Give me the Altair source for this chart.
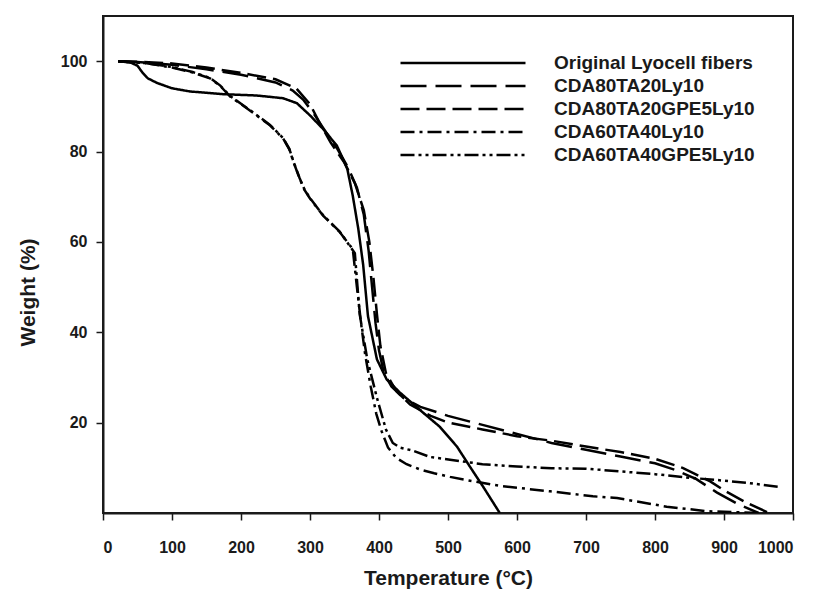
import altair as alt
import pandas as pd

series_names = [
    "Original Lyocell fibers",
    "CDA80TA20Ly10",
    "CDA80TA20GPE5Ly10",
    "CDA60TA40Ly10",
    "CDA60TA40GPE5Ly10",
]

lyo_t = [22, 40, 50, 57, 65, 78, 100, 126, 174, 223, 261, 281, 300, 319, 339, 354, 362, 370, 377, 384, 397, 411, 430, 464, 488, 513, 532, 551, 575]
lyo_w = [100, 99.7, 99, 97.5, 96.2, 95.2, 94, 93.3, 92.7, 92.4, 91.8, 90.7, 88, 85, 81.3, 76.2, 70.2, 62.9, 55, 43.6, 34, 29.6, 26.7, 22.2, 19.1, 14.7, 10.2, 5.8, 0]

a_t = [22, 50, 100, 150, 200, 250, 275, 290, 305, 320, 340, 355, 368, 378, 385, 390, 395, 400, 407, 418, 435, 460, 500, 550, 600, 650, 700, 750, 800, 830, 860, 890, 920, 950]
a_w = [100, 99.8, 99.2, 98.2, 97, 95.3, 93.5, 91.5, 88.5, 85, 80.5, 76.5, 72, 66, 58, 50, 42, 36, 31, 28, 25.5, 23.5, 21.5, 19.5, 17.5, 15.5, 14, 12.5, 11, 9.5, 7.5, 4.5, 2, 0]

b_t = [22, 50, 100, 150, 200, 250, 280, 300, 315, 330, 350, 365, 378, 386, 392, 397, 402, 410, 425, 445, 475, 500, 550, 600, 650, 700, 750, 800, 840, 860, 880, 900, 930, 965]
b_w = [100, 99.9, 99.5, 98.6, 97.4, 96, 94, 90.5, 86, 82, 77.5, 73, 67, 60, 52, 44, 37, 31, 27, 24, 21.5, 20, 18.5, 17, 16, 14.7, 13.5, 12, 10, 8.5, 7, 5, 2.5, 0]

c_t = [22, 60, 100, 130, 155, 170, 184, 200, 220, 242, 261, 270, 276, 285, 292, 300, 319, 343, 362, 368, 374, 380, 388, 396, 404, 413, 425, 440, 460, 480, 503, 530, 575, 648, 710, 745, 817, 875, 950]
c_w = [100, 99.6, 98.6, 97.5, 96.2, 94.5, 92.2, 90.5, 88.3, 85.8, 82.9, 80.5, 77.7, 74, 71.5, 69.6, 65.8, 62.2, 58.4, 50, 42, 35, 28, 22, 18, 14.5, 12.2, 10.8, 9.6, 8.8, 8, 7.2, 6, 4.8, 3.7, 3.3, 1.4, 0.4, 0]

d_t = [22, 60, 100, 130, 155, 170, 184, 200, 220, 242, 261, 270, 276, 285, 292, 300, 319, 343, 365, 372, 383, 397, 410, 420, 430, 449, 474, 503, 550, 600, 650, 700, 750, 800, 850, 890, 938, 978]
d_w = [100, 99.6, 98.7, 97.6, 96.3, 94.6, 92.3, 90.6, 88.4, 85.9, 83, 80.6, 77.8, 74.1, 71.6, 69.7, 65.9, 62.3, 57.5, 44, 34, 25.5, 18.5, 15.5, 14.5, 13.8, 12.4, 11.8, 10.8, 10.3, 9.9, 9.8, 9.2, 8.6, 7.8, 7.3, 6.6, 5.8]

rows = []
for name, ts, ws in zip(series_names, [lyo_t, a_t, b_t, c_t, d_t], [lyo_w, a_w, b_w, c_w, d_w]):
    for i, (t, w) in enumerate(zip(ts, ws)):
        rows.append({"series": name, "T": t, "W": w, "i": i})
df = pd.DataFrame(rows)

dashes = [[1, 0], [26, 9], [19, 7], [14, 5, 3, 5], [14, 4, 3, 4, 3, 4]]

font = "Liberation Sans"

chart = alt.Chart(df).mark_line(strokeWidth=2.5, color="black", clip=True).encode(
    x=alt.X("T:Q", scale=alt.Scale(domain=[0, 1000], nice=False),
            axis=alt.Axis(values=list(range(0, 1001, 100)), format="d", title="Temperature (°C)",
                          titlePadding=12)),
    y=alt.Y("W:Q", scale=alt.Scale(domain=[0, 110], nice=False),
            axis=alt.Axis(values=[20, 40, 60, 80, 100], title="Weight (%)", titlePadding=22,
                          titleY=276)),
    strokeDash=alt.StrokeDash("series:N", scale=alt.Scale(domain=series_names, range=dashes),
                              legend=alt.Legend(title=None, orient="none", legendX=348, legendY=35,
                                                symbolType="M-6,0H6", symbolSize=434,
                                                symbolStrokeWidth=2.5, symbolStrokeColor="black",
                                                labelOffset=79, rowPadding=1, padding=0,
                                                labelFont=font, labelFontSize=19, labelFontWeight="bold",
                                                labelColor="#1a1a1a", labelLimit=400)),
    order="i:Q",
).properties(
    width=690, height=497,
    autosize=alt.AutoSizeParams(type="none"),
    padding={"left": 95, "top": 8, "right": 15, "bottom": 82},
).configure_view(
    stroke="#1a1a1a", strokeWidth=2
).configure_axis(
    domainColor="#1a1a1a", domainWidth=2, tickColor="#1a1a1a", tickWidth=1.5, tickSize=7,
    labelFont=font, labelFontSize=16, labelFontWeight="bold", labelColor="#1a1a1a",
    titleFont=font, titleFontSize=21, titleFontWeight="bold", titleColor="#1a1a1a",
    grid=False, labelPadding=9
).configure_axisX(labelPadding=19)

chart.save("out.html", embed_options={"renderer": "svg", "actions": False})
